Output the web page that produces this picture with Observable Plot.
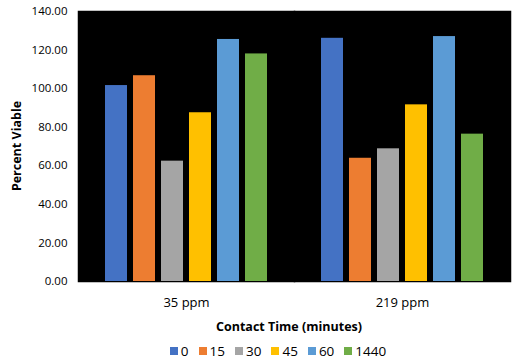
<!DOCTYPE html>
<html>
<head>
<meta charset="utf-8">
<script src="https://cdn.jsdelivr.net/npm/d3@7"></script>
<script src="https://cdn.jsdelivr.net/npm/@observablehq/plot@0.6"></script>
<style>
  html, body { margin: 0; padding: 0; background: #fff; }
  #legend { display: flex; justify-content: center; align-items: center; height: 26px;
    font-family: "Open Sans", sans-serif; font-size: 13.5px; color: #000; padding-left: 44px; }
  #legend .item { display: flex; align-items: center; margin-right: 10px; }
  #legend .item:last-child { margin-right: 0; }
  #legend .sw { width: 8px; height: 8px; margin-right: 3px; }
</style>
</head>
<body>
<div id="chart"></div>
<div id="legend"></div>
<script>
const groups = ["35 ppm", "219 ppm"];
const times = ["0", "15", "30", "45", "60", "1440"];
const values35 = [101.6, 106.7, 62.4, 87.5, 125.5, 118.0];
const values219 = [126.1, 63.9, 68.8, 91.6, 127.0, 76.4];
const colors = ["#4472C4", "#ED7D31", "#A5A5A5", "#FFC000", "#5B9BD5", "#70AD47"];
const yTicks = [0, 20, 40, 60, 80, 100, 120, 140];

const data = [];
times.forEach((t, i) => {
  data.push({group: groups[0], time: t, value: values35[i]});
  data.push({group: groups[1], time: t, value: values219[i]});
});

const font = "'Open Sans', sans-serif";
const W = 512, H = 338, mT = 11, mB = 57, mL = 77, mR = 2;

const svg = Plot.plot({
  width: W, height: H,
  marginTop: mT, marginBottom: mB, marginLeft: mL, marginRight: mR,
  style: {fontFamily: font, fontSize: "11.5px", color: "#000", background: "#fff"},
  fx: {domain: groups, padding: 0, label: null, tickSize: 0, tickPadding: 16},
  x: {domain: times, paddingInner: 0.22, paddingOuter: 0.85, axis: null},
  y: {domain: [0, 140], ticks: yTicks, tickFormat: d3.format(".2f"), label: null, tickSize: 0, tickPadding: 11},
  color: {domain: times, range: colors},
  marks: [
    Plot.frame({fill: "black", stroke: "black", strokeWidth: 1.5}),
    Plot.barY(data, {fx: "group", x: "time", y: "value", fill: "time"})
  ]
});

const s = d3.select(svg);
s.selectAll("g[aria-label='fx-axis tick label'] text, g[aria-label='fx-axis'] text").attr("font-size", 13);
s.append("text")
  .attr("x", 289).attr("y", 331)
  .attr("text-anchor", "middle")
  .attr("font-family", font).attr("font-weight", "bold").attr("font-size", 12.5)
  .text("Contact Time (minutes)");
s.append("text")
  .attr("transform", `translate(21,${(mT + H - mB) / 2}) rotate(-90)`)
  .attr("text-anchor", "middle")
  .attr("font-family", font).attr("font-weight", "bold").attr("font-size", 12.5)
  .text("Percent Viable");

document.getElementById("chart").appendChild(svg);

const legend = d3.select("#legend");
times.forEach((t, i) => {
  const it = legend.append("div").attr("class", "item");
  it.append("div").attr("class", "sw").style("background", colors[i]);
  it.append("span").text(t);
});
</script>
</body>
</html>
